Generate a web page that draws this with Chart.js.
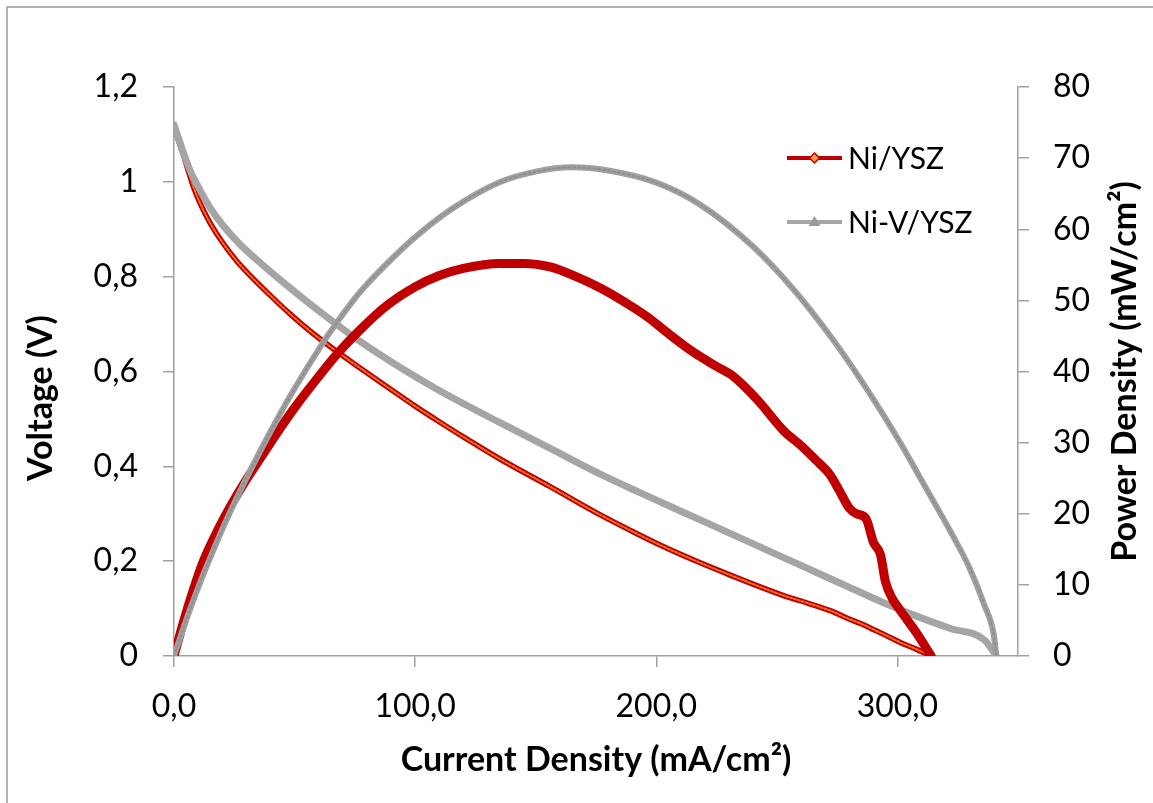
<!DOCTYPE html>
<html>
<head>
<meta charset="utf-8">
<script src="https://cdn.jsdelivr.net/npm/chart.js@4.4.1/dist/chart.umd.min.js"></script>
<style>
  html, body { margin: 0; padding: 0; background: #ffffff; }
  #wrap { position: relative; width: 1153px; height: 803px; }
</style>
</head>
<body>
<div id="wrap"><canvas id="c" width="1153" height="803"></canvas></div>
<script>
// ---------------- DATA ----------------
const seriesNames = ['Ni/YSZ', 'Ni-V/YSZ'];

// Ni/YSZ voltage curve (current density mA/cm2, voltage V)
const niVoltI = [0, 2, 4, 6, 8, 11, 15, 20, 26, 32, 40, 48, 56, 66, 77, 90, 100, 110, 120, 135, 156, 177, 190, 202, 218, 232, 245, 253, 260, 273, 279, 285, 290, 295, 301, 308, 314];
const niVolt  = [1.12, 1.085, 1.055, 1.022, 0.99, 0.953, 0.913, 0.873, 0.833, 0.8, 0.76, 0.722, 0.687, 0.648, 0.608, 0.562, 0.527, 0.494, 0.462, 0.416, 0.357, 0.297, 0.263, 0.233, 0.197, 0.168, 0.142, 0.127, 0.116, 0.094, 0.08, 0.068, 0.056, 0.044, 0.029, 0.014, 0.0];

// Ni/YSZ power density curve (mA/cm2, mW/cm2)
const niPowI = [0, 4, 8, 12, 18, 24, 30, 36, 43, 50, 60, 68, 77, 88, 100, 110, 120, 135, 145, 156, 167, 177, 190, 197, 204, 215, 225, 232, 242, 253, 260, 266, 272, 276, 280, 283, 287, 290, 293, 295, 298, 301, 308, 314];
const niPow  = [0, 4.9, 9.3, 13.2, 17.6, 21.4, 24.8, 27.9, 31.5, 34.9, 39.3, 42.6, 45.8, 49.2, 51.9, 53.5, 54.5, 55.2, 55.2, 54.7, 53.3, 51.7, 49.1, 47.5, 45.6, 42.8, 40.7, 39.3, 36.0, 31.6, 29.6, 27.6, 25.5, 23.2, 20.8, 20.0, 19.3, 16.0, 14.2, 10.5, 8.0, 6.5, 3.2, 0];

// Ni-V/YSZ voltage curve
const nvVoltI = [0, 2, 4, 7, 10, 15, 20, 27, 36, 46, 56, 66, 77, 94, 110, 135, 155, 177, 193, 218, 240, 260, 280, 294, 309, 322, 336, 341];
const nvVolt  = [1.12, 1.09, 1.06, 1.02, 0.99, 0.945, 0.91, 0.87, 0.828, 0.785, 0.744, 0.705, 0.664, 0.608, 0.56, 0.4925, 0.4405, 0.383, 0.345, 0.2875, 0.237, 0.191, 0.145, 0.113, 0.082, 0.058, 0.034, 0.0];

// Ni-V/YSZ power density curve
const nvPowI = [0, 5, 10, 15, 22, 33, 42, 50, 61, 66, 77, 94, 102, 115, 135, 150, 165, 180, 200, 218, 240, 257, 273, 287, 301, 309, 322, 330, 336, 340, 341];
const nvPow  = [0, 5.0, 9.6, 13.8, 19.3, 27.0, 32.8, 37.6, 43.65, 46.15, 51.1, 57.05, 59.45, 62.8, 66.6, 68.1, 68.7, 68.25, 66.55, 63.5, 57.6, 51.5, 44.6, 37.7, 30.1, 25.3, 17.5, 12.3, 7.2, 2.9, 0];

// Tick values and labels
const xTickValues = [0, 100, 200, 300];
const xTickLabels = ['0,0', '100,0', '200,0', '300,0'];
const yLeftTickValues = [0, 0.2, 0.4, 0.6, 0.8, 1.0, 1.2];
const yLeftTickLabels = ['0', '0,2', '0,4', '0,6', '0,8', '1', '1,2'];
const yRightTickValues = [0, 10, 20, 30, 40, 50, 60, 70, 80];
const yRightTickLabels = ['0', '10', '20', '30', '40', '50', '60', '70', '80'];

const xTitle = 'Current Density (mA/cm²)';
const yLeftTitle = 'Voltage (V)';
const yRightTitle = 'Power Density (mW/cm²)';

// ---------------- helpers ----------------
const pts = (xs, ys) => xs.map((x, i) => ({ x: x, y: ys[i] }));
const RED = '#C00000';
const ORANGE = '#F79646';
const GRAY = '#A5A5A5';
const AXIS = '#A0A0A0';
const FONT = 'Lato, "Open Sans", "DejaVu Sans", sans-serif';

const decor = {
  id: 'decor',
  afterDraw(chart) {
    const ctx = chart.ctx;
    const area = chart.chartArea;
    ctx.save();
    // outer frame (top and left edges visible)
    ctx.strokeStyle = '#9a9a9a';
    ctx.lineWidth = 1.5;
    ctx.beginPath();
    ctx.moveTo(7, 803);
    ctx.lineTo(7, 7);
    ctx.lineTo(1153, 7);
    ctx.stroke();

    // axis titles
    ctx.fillStyle = '#000000';
    ctx.font = 'bold 34px ' + FONT;
    ctx.textAlign = 'center';
    ctx.textBaseline = 'middle';
    ctx.fillText(xTitle, (area.left + area.right) / 2, 760);
    ctx.save();
    ctx.translate(41, 398);
    ctx.rotate(-Math.PI / 2);
    ctx.fillText(yLeftTitle, 0, 0);
    ctx.restore();
    ctx.save();
    ctx.translate(1125, (area.top + area.bottom) / 2);
    ctx.rotate(-Math.PI / 2);
    ctx.fillText(yRightTitle, 0, 0);
    ctx.restore();

    // legend
    const lx0 = 787, lx1 = 842, tx = 848;
    const rows = [158, 222];
    ctx.font = '30px ' + FONT;
    ctx.textAlign = 'left';
    const mx = (lx0 + lx1) / 2;
    // row 1
    ctx.strokeStyle = RED; ctx.lineWidth = 4;
    ctx.beginPath(); ctx.moveTo(lx0, rows[0]); ctx.lineTo(lx1, rows[0]); ctx.stroke();
    ctx.fillStyle = ORANGE; ctx.strokeStyle = RED; ctx.lineWidth = 1.5;
    ctx.beginPath();
    ctx.moveTo(mx, rows[0] - 5); ctx.lineTo(mx + 5, rows[0]); ctx.lineTo(mx, rows[0] + 5); ctx.lineTo(mx - 5, rows[0]);
    ctx.closePath(); ctx.fill(); ctx.stroke();
    ctx.fillStyle = '#000000';
    ctx.fillText(seriesNames[0], tx, rows[0] + 1);
    // row 2
    ctx.strokeStyle = GRAY; ctx.lineWidth = 4;
    ctx.beginPath(); ctx.moveTo(lx0, rows[1]); ctx.lineTo(lx1, rows[1]); ctx.stroke();
    ctx.fillStyle = '#9a9a9a';
    ctx.beginPath();
    ctx.moveTo(mx, rows[1] - 6); ctx.lineTo(mx + 6, rows[1] + 4); ctx.lineTo(mx - 6, rows[1] + 4);
    ctx.closePath(); ctx.fill();
    ctx.fillStyle = '#000000';
    ctx.fillText(seriesNames[1], tx, rows[1] + 1);
    ctx.restore();
  }
};

const lineDefaults = {
  showLine: true,
  pointRadius: 0,
  pointHoverRadius: 0,
  fill: false,
  cubicInterpolationMode: 'monotone',
  borderCapStyle: 'round',
  borderJoinStyle: 'round'
};

new Chart(document.getElementById('c'), {
  type: 'scatter',
  data: {
    datasets: [
      Object.assign({}, lineDefaults, {
        label: seriesNames[1] + ' P', data: pts(nvPowI, nvPow), yAxisID: 'yR',
        borderColor: '#A0A0A0', borderWidth: 6, order: 0
      }),
      Object.assign({}, lineDefaults, {
        label: seriesNames[1] + ' P marks', data: pts(nvPowI, nvPow), yAxisID: 'yR',
        borderColor: '#8E8E8E', borderWidth: 2, borderDash: [2, 3], order: -1
      }),
      Object.assign({}, lineDefaults, {
        label: seriesNames[0] + ' P', data: pts(niPowI, niPow), yAxisID: 'yR',
        borderColor: RED, borderWidth: 9, order: 1
      }),
      Object.assign({}, lineDefaults, {
        label: seriesNames[1] + ' V', data: pts(nvVoltI, nvVolt), yAxisID: 'yL',
        borderColor: GRAY, borderWidth: 7, order: 2
      }),
      Object.assign({}, lineDefaults, {
        label: seriesNames[0] + ' V marks', data: pts(niVoltI, niVolt), yAxisID: 'yL',
        borderColor: '#E8702A', borderWidth: 2, borderDash: [2, 2], order: 2.5
      }),
      Object.assign({}, lineDefaults, {
        label: seriesNames[0] + ' V', data: pts(niVoltI, niVolt), yAxisID: 'yL',
        borderColor: RED, borderWidth: 5.5, order: 3
      })
    ]
  },
  options: {
    responsive: false,
    animation: false,
    events: [],
    layout: { padding: { top: 87, left: 0, right: 0, bottom: 0 } },
    plugins: { legend: { display: false }, tooltip: { enabled: false }, title: { display: false } },
    scales: {
      x: {
        type: 'linear', position: 'bottom', min: 0, max: 350,
        afterFit: s => { s.height = 147; },
        afterBuildTicks: s => { s.ticks = xTickValues.map(v => ({ value: v })); },
        ticks: {
          autoSkip: false, maxRotation: 0, padding: 20, color: '#000000',
          font: { family: FONT, size: 32 },
          callback: (v, i) => xTickLabels[i]
        },
        grid: { drawOnChartArea: false, drawTicks: true, tickLength: 11, color: AXIS, lineWidth: 1.5 },
        border: { display: true, color: AXIS, width: 1.5 }
      },
      yL: {
        type: 'linear', position: 'left', min: 0, max: 1.2,
        afterFit: s => { s.width = 174; },
        afterBuildTicks: s => { s.ticks = yLeftTickValues.map(v => ({ value: v })); },
        ticks: {
          autoSkip: false, padding: 25, color: '#000000',
          font: { family: FONT, size: 32 },
          callback: (v, i) => yLeftTickLabels[i]
        },
        grid: { drawOnChartArea: false, drawTicks: true, tickLength: 11, color: AXIS, lineWidth: 1.5 },
        border: { display: true, color: AXIS, width: 1.5 }
      },
      yR: {
        type: 'linear', position: 'right', min: 0, max: 80,
        afterFit: s => { s.width = 135; },
        afterBuildTicks: s => { s.ticks = yRightTickValues.map(v => ({ value: v })); },
        ticks: {
          autoSkip: false, padding: 24, color: '#000000',
          font: { family: FONT, size: 32 },
          callback: (v, i) => yRightTickLabels[i]
        },
        grid: { drawOnChartArea: false, drawTicks: true, tickLength: 11, color: AXIS, lineWidth: 1.5 },
        border: { display: true, color: AXIS, width: 1.5 }
      }
    }
  },
  plugins: [decor]
});
</script>
</body>
</html>
